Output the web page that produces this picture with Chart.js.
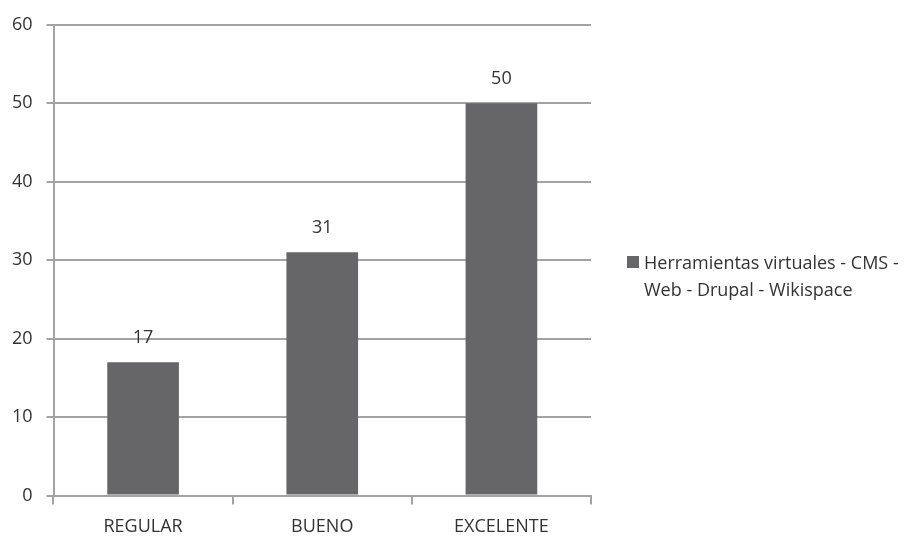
<!DOCTYPE html>
<html>
<head>
<meta charset="utf-8">
<script src="https://cdn.jsdelivr.net/npm/chart.js@4"></script>
<style>
  html, body { margin: 0; padding: 0; background: #fff; }
  #wrap { position: relative; width: 914px; height: 537px; }
  #legend { position: absolute; left: 627px; top: 249px; font-family: "Open Sans", sans-serif; font-size: 18px; line-height: 27px; color: #333; }
  #legend .box { position: absolute; left: 0; top: 7px; width: 12px; height: 12px; background: #666668; }
  #legend .txt { margin-left: 17px; white-space: nowrap; }
</style>
</head>
<body>
<div id="wrap">
  <canvas id="chart" width="914" height="537"></canvas>
  <div id="legend"><div class="box"></div><div class="txt" id="legendText"></div></div>
</div>
<script>
// data
const categories = ['REGULAR', 'BUENO', 'EXCELENTE'];
const values = [17, 31, 50];
const seriesName = ['Herramientas virtuales - CMS -', 'Web - Drupal - Wikispace'];

document.getElementById('legendText').innerHTML = seriesName.join('<br>');

const textColor = '#333';
const gridColor = '#a3a3a3';

// value labels above each bar
const valueLabels = {
  id: 'valueLabels',
  afterDatasetsDraw(chart) {
    const ctx = chart.ctx;
    const meta = chart.getDatasetMeta(0);
    ctx.save();
    ctx.font = '18px "Open Sans"';
    ctx.fillStyle = textColor;
    ctx.textAlign = 'center';
    ctx.textBaseline = 'middle';
    meta.data.forEach((bar, i) => {
      ctx.fillText(values[i], bar.x, bar.y - 24);
    });
    ctx.restore();
  }
};

const ctx = document.getElementById('chart').getContext('2d');
const chart = new Chart(ctx, {
  type: 'bar',
  data: {
    labels: categories,
    datasets: [{
      label: seriesName.join(' '),
      data: values,
      backgroundColor: '#666668',
      borderWidth: 0,
      barPercentage: 0.4,
      categoryPercentage: 1
    }]
  },
  options: {
    responsive: false,
    animation: false,
    layout: { padding: { left: 0, top: 22, right: 323, bottom: 0 } },
    plugins: {
      legend: { display: false },
      tooltip: { enabled: false }
    },
    scales: {
      x: {
        afterFit(scale) { scale.height = 41.5; },
        grid: { drawOnChartArea: false, drawTicks: true, tickLength: 9, color: gridColor, lineWidth: 2 },
        border: { color: gridColor, width: 2 },
        ticks: { color: textColor, font: { family: 'Open Sans', size: 18 }, padding: 12 }
      },
      y: {
        min: 0,
        max: 60,
        afterFit(scale) { scale.width = 53.5; },
        grid: { color: gridColor, lineWidth: 2, tickLength: 7 },
        border: { color: gridColor, width: 2 },
        ticks: { stepSize: 10, color: textColor, font: { family: 'Open Sans', size: 18 }, padding: 14 }
      }
    }
  },
  plugins: [valueLabels]
});
</script>
</body>
</html>
